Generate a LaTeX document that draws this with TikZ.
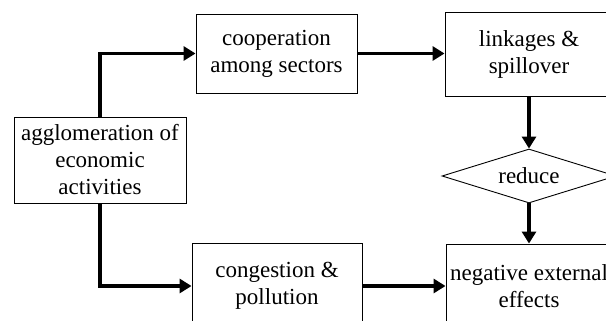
\documentclass[tikz,border=0pt]{standalone}
\usepackage{fontspec}
\setmainfont{Liberation Serif}
\usetikzlibrary{arrows.meta,shapes.geometric}
\begin{document}
\begin{tikzpicture}[x=1pt,y=-1pt,
  box/.style={draw,line width=0.9pt,rectangle,inner sep=0pt,align=center,
    font=\fontsize{23}{27}\selectfont},
  dia/.style={draw,line width=0.9pt,diamond,inner sep=0pt,align=center,
    font=\fontsize{23}{27}\selectfont},
  flow/.style={line width=3.4pt,-{Triangle[length=12pt,width=14pt]}}]
\useasboundingbox (0,0) rectangle (606,321);
\clip (0,0) rectangle (606,321);
\node[box,minimum width=172pt,minimum height=86pt] (agg) at (100,160) {agglomeration of\\economic\\activities};
\node[box,minimum width=161pt,minimum height=79pt] (coop) at (276.5,53.5) {cooperation\\among sectors};
\node[box,minimum width=168pt,minimum height=84pt] (link) at (529,54) {linkages \&\\spillover};
\node[dia,minimum width=174pt,minimum height=54pt,aspect=3.2] (red) at (529,176) {};
\node[font=\fontsize{23}{27}\selectfont] (redt) at (529,176) {reduce};
\node[box,minimum width=170pt,minimum height=86pt] (cong) at (277,286) {congestion \&\\pollution};
\node[box,minimum width=166pt,minimum height=84pt] (neg) at (529,286) {negative external\\effects};
\draw[flow] (agg.north) |- (coop.west);
\draw[flow] (agg.south) |- (cong.west);
\draw[flow] (coop.east) -- (coop.east -| link.west);
\draw[flow] (link.south) -- (red.north);
\draw[flow] (red.south) -- (neg.north);
\draw[flow] (cong.east) -- (neg.west);
\end{tikzpicture}
\end{document}
